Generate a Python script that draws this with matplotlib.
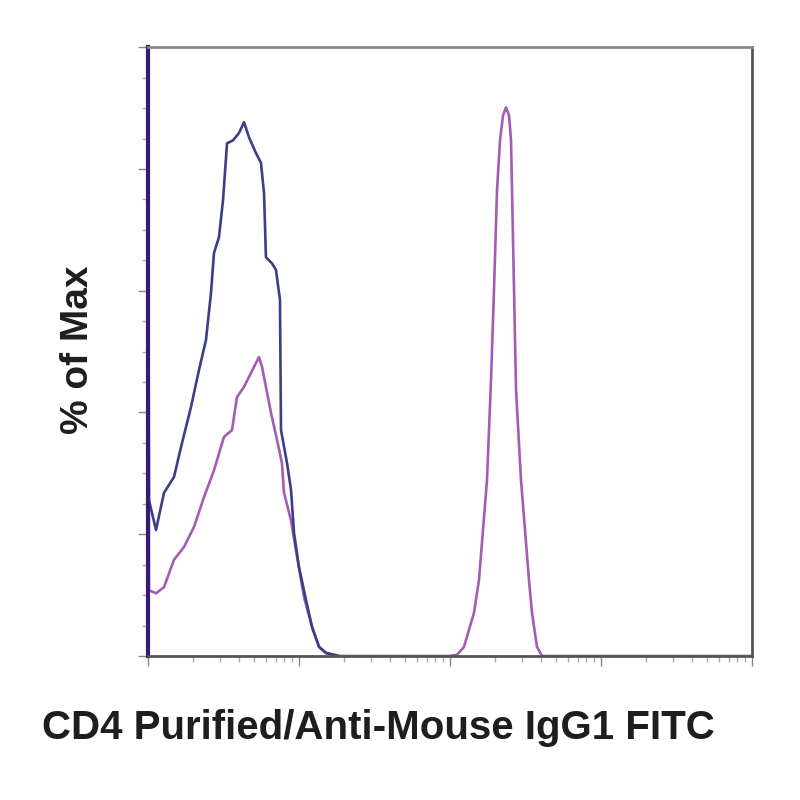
import matplotlib
matplotlib.use('Agg')
import matplotlib.pyplot as plt
from matplotlib.ticker import LogLocator, MultipleLocator, NullFormatter

# blue histogram (control)
blue_x = [1.0, 1.015, 1.130, 1.276, 1.486, 1.654, 1.926, 2.177, 2.421, 2.612, 2.735,
          2.952, 3.14, 3.336, 3.655, 4.006, 4.323, 4.665, 5.19, 5.60, 5.866, 6.04,
          6.62, 7.04, 7.48, 7.60, 8.33, 8.85, 9.27, 10.0, 11.13, 12.19, 13.57,
          15.09, 18.41]
blue_y = [100, 25.6, 20.7, 26.8, 29.4, 34.3, 40.9, 47.0, 51.9, 59.6, 66.2,
          68.8, 74.9, 84.2, 84.7, 85.9, 87.7, 85.2, 82.6, 81.0, 76.0, 65.5,
          64.5, 63.4, 58.5, 37.1, 31.7, 27.3, 20.2, 14.6, 9.2, 4.8, 1.5,
          0.5, 0]

# purple histogram (stained)
purple_x = [1.0, 1.015, 1.130, 1.276, 1.486, 1.730, 2.017, 2.349, 2.735, 3.186,
            3.60, 3.88, 4.323, 4.81, 5.43, 5.69, 6.53, 7.15, 7.71, 7.96, 8.85,
            9.70, 10.79, 12.19, 13.57, 15.09, 18.41, 98.5, 111.3, 123.8, 144.2,
            155.6, 175.8, 186.9, 195.6, 204.8, 214.4, 224.4, 234.9, 246.0, 253.6,
            257.5, 265.5, 273.7, 295.3, 333.5, 349.2, 376.7, 406.4, 10000]
purple_y = [100, 10.8, 10.3, 11.3, 15.8, 17.9, 21.2, 26.1, 30.5, 36.0,
            37.1, 42.5, 44.2, 46.5, 49.1, 47.5, 39.9, 35.5, 31.7, 26.8, 22.3,
            16.3, 9.7, 4.8, 1.5, 0.5, 0, 0, 0.2, 1.5, 7.1,
            12.5, 28.9, 45.3, 60.1, 76.5, 84.7, 88.8, 90.1, 88.8, 84.7,
            76.5, 60.1, 43.7, 28.9, 12.5, 7.1, 1.5, 0, 0]

plt.rcParams['font.family'] = ['Liberation Sans', 'DejaVu Sans']

fig = plt.figure(figsize=(8, 8), dpi=100)
ax = fig.add_axes([0.185, 0.18, 0.755, 0.761])

ax.plot(purple_x, purple_y, color='#a45cb4', lw=1.9, solid_joinstyle='round')
ax.plot(blue_x, blue_y, color='#3d3d88', lw=1.9, solid_joinstyle='round')

ax.set_xscale('log')
ax.set_xlim(1, 10000)
ax.set_ylim(0, 100)

ax.xaxis.set_major_locator(LogLocator(base=10))
ax.xaxis.set_minor_locator(LogLocator(base=10, subs=range(2, 10)))
ax.xaxis.set_major_formatter(NullFormatter())
ax.xaxis.set_minor_formatter(NullFormatter())
ax.yaxis.set_major_locator(MultipleLocator(20))
ax.yaxis.set_minor_locator(MultipleLocator(5))
ax.yaxis.set_major_formatter(NullFormatter())

ax.tick_params(which='major', length=7, width=1, color='#888888')
ax.tick_params(which='minor', length=4, width=1, color='#aaaaaa')

for side in ['top', 'right', 'bottom']:
    ax.spines[side].set_color('#555555')
    ax.spines[side].set_linewidth(2)
ax.spines['top'].set_color('#8a8a8a')
ax.spines['left'].set_color('#3a1a70')
ax.spines['left'].set_linewidth(3)

fig.text(0.0975, 0.5625, '% of Max', rotation=90, fontsize=28, fontweight='bold',
         color='#1e1e1e', ha='center', va='center')
fig.text(0.4725, 0.09, 'CD4 Purified/Anti-Mouse IgG1 FITC', fontsize=29,
         fontweight='bold', color='#1e1e1e', ha='center', va='center')

fig.savefig('out.png', dpi=100, facecolor='white')
